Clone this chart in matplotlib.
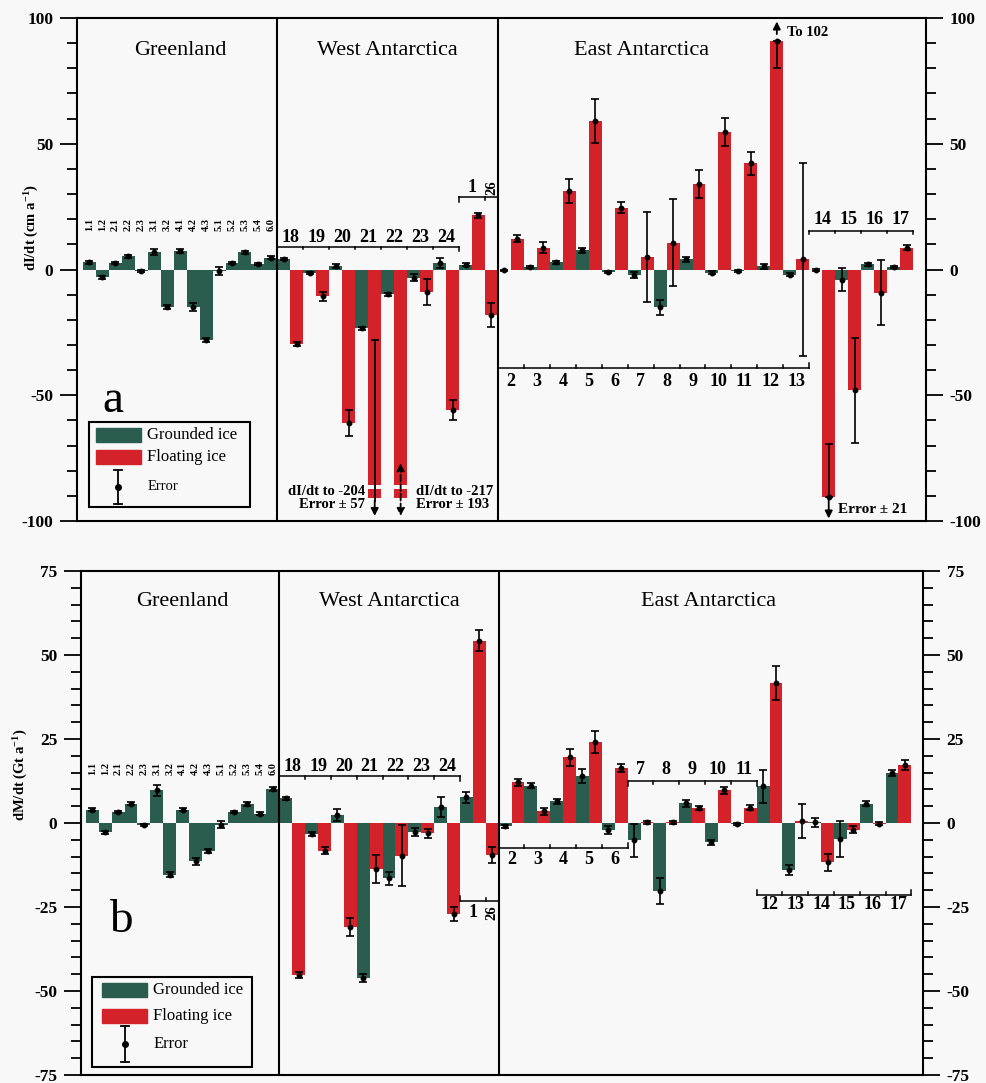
import matplotlib.pyplot as plt
import numpy as np
from matplotlib.patches import Rectangle
from matplotlib.lines import Line2D

plt.rcParams['font.family'] = 'Liberation Serif'
plt.rcParams['mathtext.fontset'] = 'custom'
plt.rcParams['mathtext.rm'] = 'Liberation Serif:bold'
plt.rcParams['mathtext.bf'] = 'Liberation Serif:bold'
plt.rcParams['mathtext.it'] = 'Liberation Serif:bold:italic'
plt.rcParams['axes.unicode_minus'] = False

# drainage basins
gl_basins = ['1.1', '1.2', '2.1', '2.2', '2.3', '3.1', '3.2', '4.1', '4.2', '4.3',
             '5.1', '5.2', '5.3', '5.4', '6.0']
wa_basins = ['18', '19', '20', '21', '22', '23', '24', '1', '26']
ea_basins = [str(i) for i in range(2, 18)]

# (a) elevation change dI/dt, cm/a
gl_dIdt = [2.9, -3.0, 2.5, 5.2, -0.7, 6.9, -15.0, 7.5, -15.0, -27.9, -0.7, 2.5, 6.9, 2.2, 4.6]
gl_dIdt_err = [0.6, 0.6, 0.5, 0.6, 0.4, 1.2, 0.8, 0.8, 1.5, 0.8, 1.5, 0.5, 0.6, 0.5, 0.6]
wa_gr_dIdt = [4.1, -1.2, 1.3, -23.4, -9.9, -3.2, 2.6, 1.8, np.nan]
wa_gr_dIdt_err = [0.5, 0.4, 0.9, 0.7, 0.7, 1.5, 2.0, 0.6, np.nan]
wa_fl_dIdt = [-29.6, -10.6, -61.0, -204.0, -217.0, -8.9, -55.9, 21.5, -18.1]
wa_fl_dIdt_err = [0.8, 1.8, 5.1, 57.0, 193.0, 5.3, 4.1, 1.1, 4.8]
ea_gr_dIdt = [-0.3, 0.8, 2.8, 7.7, -0.9, -2.2, -15.1, 4.1, -1.2, -0.4, 1.3, -2.0,
              -0.3, -4.0, 2.0, 0.8]
ea_gr_dIdt_err = [0.3, 0.4, 0.5, 1.0, 0.4, 1.2, 2.8, 1.0, 0.5, 0.4, 1.0, 0.6,
                  0.4, 4.4, 0.5, 0.4]
ea_fl_dIdt = [12.3, 8.7, 31.2, 59.0, 24.6, 5.0, 10.7, 34.1, 54.6, 42.3, 91.0, 4.1,
              -90.5, -48.1, -9.3, 8.6]
ea_fl_dIdt_err = [1.5, 2.3, 4.6, 8.6, 2.3, 17.9, 17.2, 5.6, 5.6, 4.6, 11.0, 38.4,
                  21.0, 21.0, 12.9, 1.0]

# (b) mass change dM/dt, Gt/a
gl_dMdt = [4.0, -2.8, 3.3, 5.8, -0.7, 9.7, -15.4, 4.0, -11.4, -8.4, -0.5, 3.3, 5.7, 2.8, 10.2]
gl_dMdt_err = [0.5, 0.5, 0.4, 0.5, 0.3, 1.7, 0.8, 0.5, 1.0, 0.6, 1.0, 0.4, 0.5, 0.4, 0.6]
wa_gr_dMdt = [7.3, -3.3, 2.4, -46.0, -16.5, -2.8, 4.7, 7.6, np.nan]
wa_gr_dMdt_err = [0.5, 0.7, 1.7, 1.2, 2.0, 1.2, 3.0, 1.6, np.nan]
wa_fl_dMdt = [-45.2, -8.2, -31.0, -13.7, -9.7, -3.1, -27.1, 54.3, -9.5]
wa_fl_dMdt_err = [1.0, 1.0, 2.7, 4.1, 9.0, 1.3, 2.0, 3.2, 2.5]
ea_gr_dMdt = [-1.0, 11.1, 6.4, 14.0, -2.0, -5.2, -20.3, 5.9, -5.8, -0.3, 10.9, -13.9,
              0.2, -4.8, 5.7, 14.9]
ea_gr_dMdt_err = [0.5, 0.7, 0.6, 2.0, 1.2, 5.0, 3.8, 1.0, 0.7, 0.4, 5.0, 1.5,
                  1.3, 5.3, 0.7, 1.0]
ea_fl_dMdt = [12.1, 3.5, 19.5, 24.0, 16.5, 0.2, 0.2, 4.5, 9.7, 4.6, 41.7, 0.6,
              -11.7, -2.0, -0.2, 17.3]
ea_fl_dMdt_err = [1.0, 1.0, 2.5, 3.3, 1.2, 0.4, 0.4, 0.7, 1.0, 0.7, 5.0, 5.1,
                  2.5, 1.0, 0.4, 1.5]

GROUNDED = '#2b5d4f'
FLOATING = '#d4222b'
BG = '#f8f8f8'
W, H = 987, 1083
EB = dict(fmt='o', ms=3.2, color='k', ecolor='k', elinewidth=1.2, capsize=2.8,
          capthick=1.2, zorder=4)


def layout(start, grounded):
    # one slot for each bar, grounded then floating inside a basin
    gx, flx, edges = [], [], [start]
    x = start
    for g in grounded:
        if np.isnan(g):
            gx.append(np.nan)
        else:
            gx.append(x + 0.5)
            x += 1
        flx.append(x + 0.5)
        x += 1
        edges.append(x)
    return np.array(gx), np.array(flx), edges


gl_x = np.arange(len(gl_basins)) + 0.5
wa_gx, wa_fx, wa_edges = layout(len(gl_basins), wa_gr_dIdt)
ea_gx, ea_fx, ea_edges = layout(wa_edges[-1], ea_gr_dIdt)


def errbars(ax, x, v, e, lim):
    x, v, e = np.asarray(x), np.asarray(v), np.asarray(e)
    ok = ~np.isnan(v)
    inside = ok & (np.abs(v) + e <= lim)
    ax.errorbar(x[inside], v[inside], yerr=e[inside], **EB)
    part = ok & ~inside & (np.abs(v) <= lim)
    lo = np.where(v - e < -lim, 0, e)
    hi = np.where(v + e > lim, 0, e)
    if part.any():
        ax.errorbar(x[part], v[part], yerr=[lo[part], hi[part]], **EB)


def bars(ax, x, v, color):
    x, v = np.asarray(x), np.asarray(v)
    ok = ~np.isnan(v)
    ax.bar(x[ok], v[ok], width=1.0, color=color, zorder=2)


def bracket(ax, edges, labels, y, tick, label_y, fs=13, rotate=()):
    ax.plot([edges[0], edges[-1]], [y, y], color='k', lw=1.1, zorder=3)
    for i, e in enumerate(edges):
        t = tick if i in (0, len(edges) - 1) else tick * 0.6
        ax.plot([e, e], [y, y + t], color='k', lw=1.1, zorder=3)
    for i, lab in enumerate(labels):
        xc = (edges[i] + edges[i + 1]) / 2
        if lab in rotate:
            ax.text(xc, label_y, lab, ha='center', va='center', rotation=90,
                    fontsize=10.5, fontweight='bold')
        else:
            ax.text(xc, label_y, lab, ha='center', va='center', fontsize=fs,
                    fontweight='bold')


def style_axis(ax, lim, major, minor):
    ax.set_facecolor(BG)
    ax.set_xlim(-0.45, 65.0)
    ax.set_ylim(-lim, lim)
    ax.set_xticks([])
    ax.set_yticks(np.arange(-lim, lim + 1, major))
    ax.set_yticks(np.arange(-lim, lim + 1, minor), minor=True)
    ax.tick_params(axis='y', which='both', left=True, right=True, labelleft=True,
                   labelright=True, direction='out', width=1.3, labelsize=12.5)
    ax.tick_params(axis='y', which='major', length=12, pad=5)
    ax.tick_params(axis='y', which='minor', length=7)
    for lab in ax.get_yticklabels():
        lab.set_fontweight('bold')
    for s in ax.spines.values():
        s.set_linewidth(1.5)
    ax.axvline(len(gl_basins), color='k', lw=1.5, zorder=3)
    ax.axvline(wa_edges[-1], color='k', lw=1.5, zorder=3)


def legend(fig, box, patch_x, text_x, rows_y, err_x, err_span, fs_err):
    def f(x, y):
        return x / W, 1 - y / H
    x0, y0 = f(box[0], box[3])
    x1, y1 = f(box[2], box[1])
    fig.add_artist(Rectangle((x0, y0), x1 - x0, y1 - y0, transform=fig.transFigure,
                             fill=False, ec='k', lw=1.5))
    for yc, col, lab in [(rows_y[0], GROUNDED, 'Grounded ice'),
                         (rows_y[1], FLOATING, 'Floating ice')]:
        px0, py0 = f(patch_x[0], yc + 7)
        px1, py1 = f(patch_x[1], yc - 7)
        fig.add_artist(Rectangle((px0, py0), px1 - px0, py1 - py0,
                                 transform=fig.transFigure, color=col))
        fig.text(*f(text_x, yc), lab, ha='left', va='center', fontsize=12)
    ex, ey = f(err_x, rows_y[2])
    _, et = f(err_x, rows_y[2] - err_span)
    _, eb = f(err_x, rows_y[2] + err_span)
    cw = 4 / W
    fig.add_artist(Line2D([ex, ex], [eb, et], transform=fig.transFigure, color='k', lw=1.3))
    fig.add_artist(Line2D([ex - cw, ex + cw], [et, et], transform=fig.transFigure, color='k', lw=1.3))
    fig.add_artist(Line2D([ex - cw, ex + cw], [eb, eb], transform=fig.transFigure, color='k', lw=1.3))
    fig.add_artist(Line2D([ex], [ey], transform=fig.transFigure, marker='o', ms=4, color='k'))
    fig.text(*f(text_x + 1, rows_y[2]), 'Error', ha='left', va='center', fontsize=fs_err)


fig = plt.figure(figsize=(W / 100, H / 100), dpi=100, facecolor=BG)
ax1 = fig.add_axes([77 / W, 1 - 521 / H, (926 - 77) / W, 503 / H])
ax2 = fig.add_axes([81 / W, 1 - 1075 / H, (923 - 81) / W, 504 / H])

# ---------------- (a) dI/dt ----------------
ax = ax1
style_axis(ax, 100, 50, 10)
FLOOR, GAP_TOP, GAP_BOT = -90.9, -85.7, -87.3
wa_fl_a = np.array(wa_fl_dIdt)
off = wa_fl_a < -100
bars(ax, gl_x, gl_dIdt, GROUNDED)
bars(ax, wa_gx, wa_gr_dIdt, GROUNDED)
bars(ax, wa_fx, np.where(off, FLOOR, wa_fl_a), FLOATING)
bars(ax, ea_gx, ea_gr_dIdt, GROUNDED)
bars(ax, ea_fx, ea_fl_dIdt, FLOATING)
# broken bars for off-scale values
ax.bar(wa_fx[off], GAP_BOT - GAP_TOP, bottom=GAP_TOP, width=1.0, color=BG, zorder=2.5)

errbars(ax, gl_x, gl_dIdt, gl_dIdt_err, 100)
errbars(ax, wa_gx, wa_gr_dIdt, wa_gr_dIdt_err, 100)
errbars(ax, wa_fx, wa_fl_dIdt, wa_fl_dIdt_err, 100)
errbars(ax, ea_gx, ea_gr_dIdt, ea_gr_dIdt_err, 100)
errbars(ax, ea_fx, ea_fl_dIdt, ea_fl_dIdt_err, 100)

ARW = dict(arrowstyle='-|>', color='k', lw=1.3, mutation_scale=11, shrinkA=0, shrinkB=0)
x21, x22 = wa_fx[3], wa_fx[4]
ax.plot([x21, x21], [-28.2, -92], color='k', lw=1.3, zorder=4)
ax.plot([x21 - 0.22, x21 + 0.22], [-28.2, -28.2], color='k', lw=1.3, zorder=4)
ax.annotate('', xy=(x21, -98), xytext=(x21, -92), arrowprops=ARW, zorder=5)
ax.annotate('', xy=(x22, -98), xytext=(x22, -77), zorder=5,
            arrowprops=dict(arrowstyle='<|-|>', color='k', lw=1.3, ls='--',
                            mutation_scale=11, shrinkA=0, shrinkB=0))
ax.text(21.75, -88.2, 'dI/dt to %d' % wa_fl_dIdt[3], ha='right', va='center',
        fontsize=10.5, fontweight='bold')
ax.text(21.75, -93.4, 'Error \u00b1 %d' % wa_fl_dIdt_err[3], ha='right', va='center',
        fontsize=10.5, fontweight='bold')
ax.text(25.7, -88.2, 'dI/dt to %d' % wa_fl_dIdt[4], ha='left', va='center',
        fontsize=10.5, fontweight='bold')
ax.text(25.7, -93.4, 'Error \u00b1 %d' % wa_fl_dIdt_err[4], ha='left', va='center',
        fontsize=10.5, fontweight='bold')

x12, x14 = ea_fx[10], ea_fx[12]
ax.annotate('', xy=(x12, 98.6), xytext=(x12, 93.6), arrowprops=ARW)
ax.text(54.3, 94.2, 'To %d' % round(ea_fl_dIdt[10] + ea_fl_dIdt_err[10]), ha='left',
        va='center', fontsize=10.5, fontweight='bold')
ax.annotate('', xy=(x14, -99), xytext=(x14, ea_fl_dIdt[12]), arrowprops=ARW)
ax.text(58.2, -95.3, 'Error \u00b1 %d' % ea_fl_dIdt_err[12], ha='left', va='center',
        fontsize=11, fontweight='bold')

for x, lab in zip(gl_x, gl_basins):
    ax.text(x, 15.5, lab, rotation=90, ha='center', va='bottom', fontsize=7.5,
            fontweight='bold')
bracket(ax, wa_edges[:8], wa_basins[:7], 9.1, -1.8, 12.6)
bracket(ax, wa_edges[7:], wa_basins[7:], 28.8, -2.0, 32.5, rotate=('26',))
bracket(ax, ea_edges[:13], ea_basins[:12], -39.3, 2.0, -44.5)
bracket(ax, ea_edges[12:], ea_basins[12:], 15.5, -1.5, 19.8)

ax.text(7.5, 87, 'Greenland', ha='center', va='center', fontsize=16)
ax.text(23.5, 87, 'West Antarctica', ha='center', va='center', fontsize=16)
ax.text(43.1, 87, 'East Antarctica', ha='center', va='center', fontsize=16)

# ---------------- (b) dM/dt ----------------
ax = ax2
style_axis(ax, 75, 25, 5)
ax.set_xlim(-0.38, 64.9)
bars(ax, gl_x, gl_dMdt, GROUNDED)
bars(ax, wa_gx, wa_gr_dMdt, GROUNDED)
bars(ax, wa_fx, wa_fl_dMdt, FLOATING)
bars(ax, ea_gx, ea_gr_dMdt, GROUNDED)
bars(ax, ea_fx, ea_fl_dMdt, FLOATING)
errbars(ax, gl_x, gl_dMdt, gl_dMdt_err, 75)
errbars(ax, wa_gx, wa_gr_dMdt, wa_gr_dMdt_err, 75)
errbars(ax, wa_fx, wa_fl_dMdt, wa_fl_dMdt_err, 75)
errbars(ax, ea_gx, ea_gr_dMdt, ea_gr_dMdt_err, 75)
errbars(ax, ea_fx, ea_fl_dMdt, ea_fl_dMdt_err, 75)

for x, lab in zip(gl_x, gl_basins):
    ax.text(x, 14.3, lab, rotation=90, ha='center', va='bottom', fontsize=7.5,
            fontweight='bold')
bracket(ax, wa_edges[:8], wa_basins[:7], 13.9, -1.5, 16.8)
bracket(ax, wa_edges[7:], wa_basins[7:], -23.3, 1.5, -26.6, rotate=('26',))
bracket(ax, ea_edges[:6], ea_basins[:5], -7.5, 1.4, -10.9)
bracket(ax, ea_edges[5:11], ea_basins[5:10], 12.5, -1.4, 15.8)
bracket(ax, ea_edges[10:], ea_basins[10:], -21.3, 1.5, -24.3)

ax.text(7.5, 65.8, 'Greenland', ha='center', va='center', fontsize=16)
ax.text(23.5, 65.8, 'West Antarctica', ha='center', va='center', fontsize=16)
ax.text(48.3, 65.8, 'East Antarctica', ha='center', va='center', fontsize=16)

# axis titles, panel letters and legends
fig.text(32 / W, 1 - 228 / H, r'dI/dt (cm a$^{-1}$)', rotation=90, ha='center',
         va='center', fontsize=10.5, fontweight='bold')
fig.text(21 / W, 1 - 775 / H, r'dM/dt (Gt a$^{-1}$)', rotation=90, ha='center',
         va='center', fontsize=10.5, fontweight='bold')
fig.text(113 / W, 1 - 412 / H, 'a', ha='center', va='baseline', fontsize=34)
fig.text(121 / W, 1 - 932 / H, 'b', ha='center', va='baseline', fontsize=34)

legend(fig, (89, 422, 250, 507), (96, 141), 147, (435, 457, 487), 118, 17, 10.5)
legend(fig, (92, 977, 252, 1067), (102, 147), 153, (990, 1016, 1044), 125, 18, 12)

fig.savefig('out.png', dpi=100, facecolor=BG)
